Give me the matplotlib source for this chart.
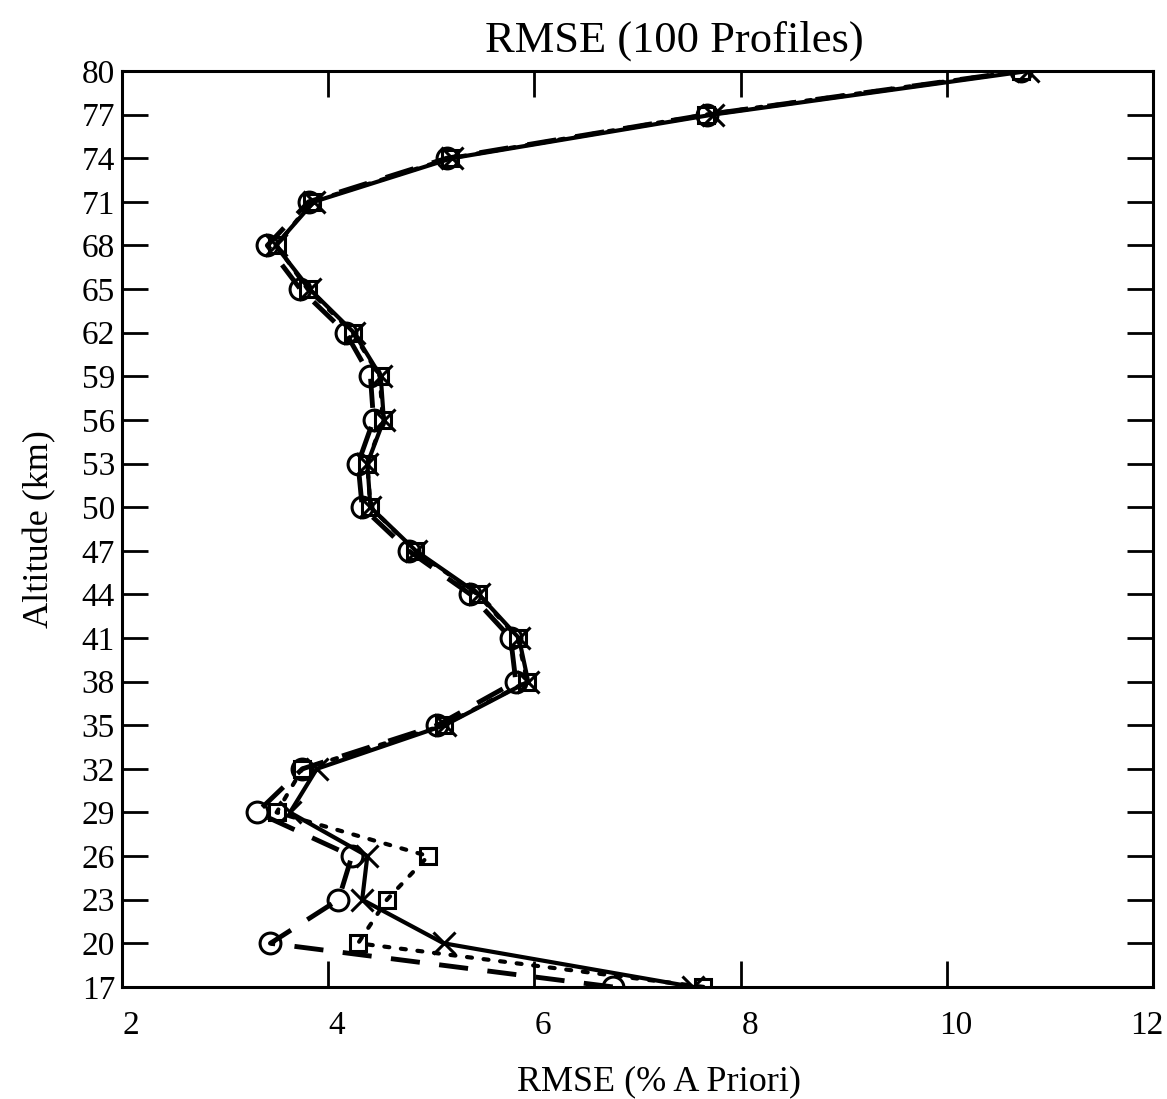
import numpy as np
import matplotlib
matplotlib.use("Agg")
import matplotlib.pyplot as plt
import matplotlib.transforms as mtransforms

plt.rcParams["font.family"] = ["Liberation Serif", "DejaVu Serif"]

# ---------------- data ----------------
altitude = [17, 20, 23, 26, 29, 32, 35, 38, 41, 44, 47, 50, 53, 56, 59, 62, 65, 68, 71, 74, 77, 80]

rmse_x = [7.54, 5.12, 4.33, 4.38, 3.63, 3.89, 5.13, 5.94, 5.85, 5.46, 4.85,
          4.41, 4.38, 4.54, 4.51, 4.25, 3.82, 3.49, 3.86, 5.20, 7.73, 10.79]
rmse_circle = [6.76, 3.44, 4.10, 4.23, 3.31, 3.75, 5.06, 5.82, 5.77, 5.38, 4.78,
               4.33, 4.29, 4.44, 4.41, 4.17, 3.73, 3.41, 3.81, 5.15, 7.67, 10.72]
rmse_square = [7.64, 4.29, 4.57, 4.97, 3.50, 3.75, 5.12, 5.93, 5.84, 5.45, 4.84,
               4.41, 4.38, 4.53, 4.50, 4.24, 3.80, 3.50, 3.84, 5.18, 7.66, 10.72]

x_ticks = [2, 4, 6, 8, 10, 12]
y_ticks = list(range(17, 81, 3))

# ---------------- figure ----------------
fig = plt.figure(figsize=(11.67, 10.99), dpi=100)
ax = fig.add_axes([0.1045, 0.102, 0.8835, 0.8334])

ax.plot(rmse_square, altitude, color="black", lw=3, linestyle=(0, (1.2, 2.8)),
        dash_capstyle="round", marker="s", ms=12, mfc="none", mec="black", mew=2.2)
ax.plot(rmse_circle, altitude, color="black", lw=3.5, linestyle=(0, (6, 4)),
        marker="o", ms=15, mfc="none", mec="black", mew=2.2)
ax.plot(rmse_x, altitude, color="black", lw=3, linestyle="-",
        marker="x", ms=16, mec="black", mew=2.2)

ax.set_xlim(2, 12)
ax.set_ylim(17, 80)
ax.set_xticks(x_ticks)
ax.set_yticks(y_ticks)

ax.tick_params(axis="both", direction="in", length=19, width=2,
               top=True, right=True, labelsize=24, color="black")
ax.tick_params(axis="x", pad=17)
ax.tick_params(axis="y", pad=5)
for spine in ax.spines.values():
    spine.set_linewidth(2.2)

# x labels sit slightly right of their ticks in the scan; last one stays inside
labels = ax.get_xticklabels()
for i, lab in enumerate(labels):
    dx = -6 if i == len(labels) - 1 else 9
    lab.set_transform(lab.get_transform() +
                      mtransforms.ScaledTranslation(dx / 100, 0, fig.dpi_scale_trans))

ax.set_title("RMSE (100 Profiles)", fontsize=32, pad=14, x=0.536)
ax.set_xlabel("RMSE (% A Priori)", fontsize=26, labelpad=18)
ax.xaxis.set_label_coords(0.521, -0.086)
ax.set_ylabel("Altitude (km)", fontsize=26, labelpad=18)

fig.savefig("out.png", dpi=100, facecolor="white")
